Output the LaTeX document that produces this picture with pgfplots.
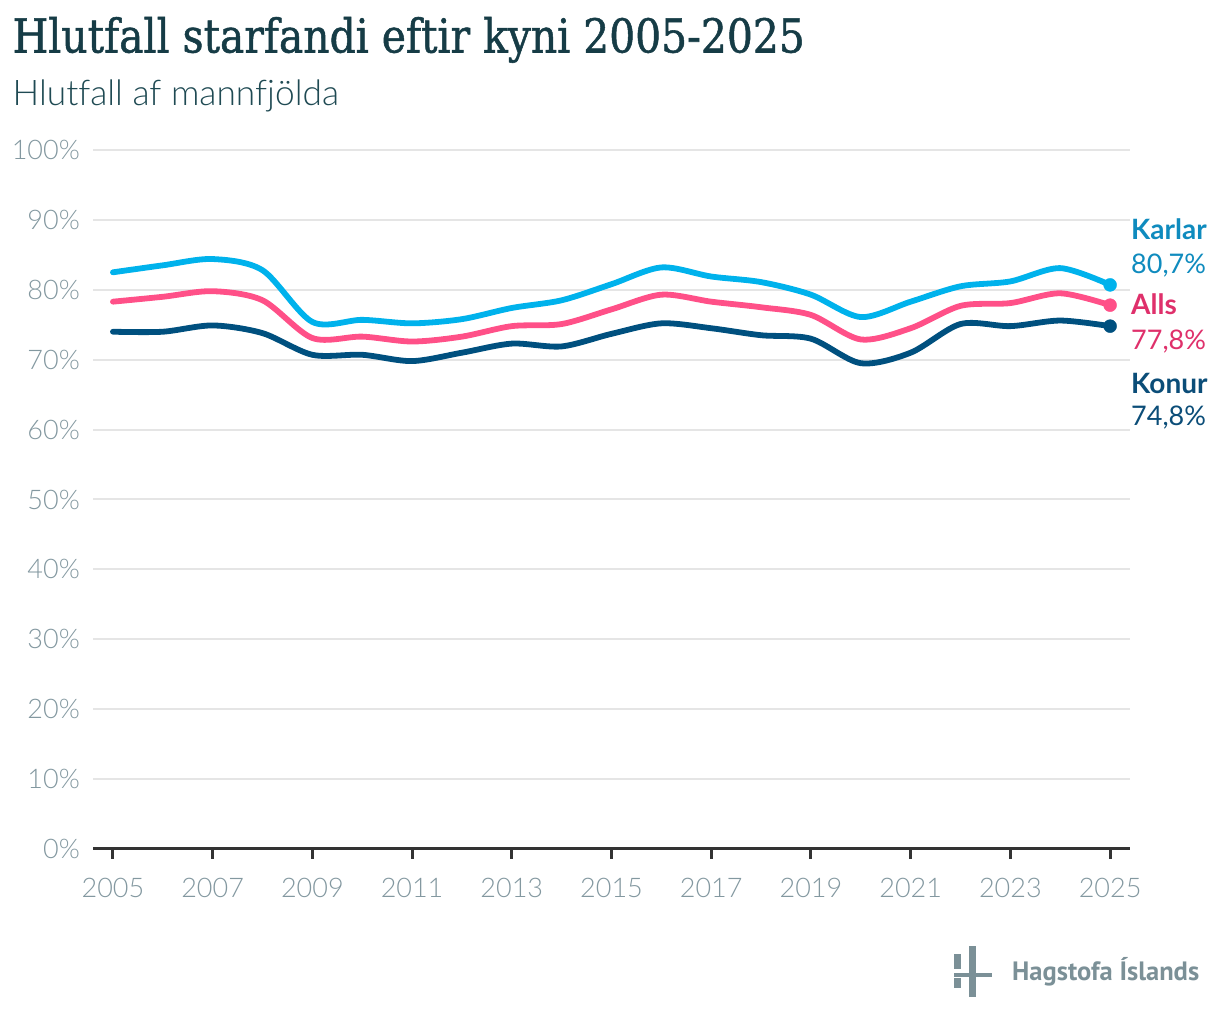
\documentclass[border=0pt]{standalone}
\usepackage{fontspec}
\setmainfont{Lato}[Ligatures=NoCommon]
\newfontfamily\latolight{Lato Light}[Ligatures=NoCommon]
\newfontfamily\titlefont{DejaVu Serif}[FakeBold=1.2]
\newfontfamily\logofont{PT Sans}
\usepackage{graphicx}
\usepackage{pgfplots}
\pgfplotsset{compat=1.18}
\definecolor{karlar}{HTML}{00B2EC}
\definecolor{alls}{HTML}{FF5088}
\definecolor{konur}{HTML}{00507F}
\definecolor{karlartxt}{HTML}{0F8BBE}
\definecolor{allstxt}{HTML}{DF306B}
\definecolor{konurtxt}{HTML}{0B4D78}
\definecolor{titlecol}{HTML}{163C46}
\definecolor{subcol}{HTML}{1F4A53}
\definecolor{tickgray}{HTML}{8398A0}
\definecolor{gridgray}{HTML}{E5E5E5}
\definecolor{axisgray}{HTML}{333333}
\definecolor{logogray}{HTML}{7B9097}
\begin{document}
\begin{tikzpicture}[x=1pt,y=1pt]
\useasboundingbox (0,0) rectangle (1220pt,1022pt);
\begin{axis}[
  at={(93pt,173pt)}, anchor=south west, scale only axis,
  width=1037pt, height=699pt,
  xmin=2004.6, xmax=2025.4, ymin=0, ymax=100,
  axis lines=left, axis line style={-},
  x axis line style={draw=axisgray, line width=3pt},
  y axis line style={draw=none},
  xtick={2005,2007,...,2025},
  xticklabels={2005,2007,2009,2011,2013,2015,2017,2019,2021,2023,2025},
  ytick={0,10,...,100},
  yticklabels={0\%,10\%,20\%,30\%,40\%,50\%,60\%,70\%,80\%,90\%,100\%},
  ymajorgrids, grid style={gridgray, line width=2pt},
  major tick length=10pt, tick align=outside,
  xtick style={draw=axisgray, line width=3pt},
  ytick style={draw=none},
  ticklabel style={font=\latolight\fontsize{27}{31}\selectfont, text=tickgray},
  yticklabel style={anchor=east, inner sep=0pt, xshift=-3pt},
  xticklabel style={anchor=north, inner sep=0pt, yshift=-19pt},
  clip=false,
]
\addplot[karlar, line width=5.8pt, line cap=round, smooth] coordinates {
(2005,82.5) (2006,83.5) (2007,84.4) (2008,82.8) (2009,75.4) (2010,75.7) (2011,75.2)
(2012,75.8) (2013,77.4) (2014,78.5) (2015,80.8) (2016,83.2) (2017,81.9) (2018,81.1)
(2019,79.3) (2020,76.1) (2021,78.3) (2022,80.5) (2023,81.2) (2024,83.1) (2025,80.7)};
\addplot[alls, line width=5.8pt, line cap=round, smooth] coordinates {
(2005,78.3) (2006,79.0) (2007,79.8) (2008,78.5) (2009,73.1) (2010,73.3) (2011,72.6)
(2012,73.3) (2013,74.8) (2014,75.1) (2015,77.2) (2016,79.3) (2017,78.3) (2018,77.5)
(2019,76.4) (2020,72.9) (2021,74.5) (2022,77.7) (2023,78.1) (2024,79.5) (2025,77.8)};
\addplot[konur, line width=5.8pt, line cap=round, smooth] coordinates {
(2005,74.0) (2006,74.0) (2007,74.9) (2008,73.8) (2009,70.7) (2010,70.7) (2011,69.8)
(2012,71.0) (2013,72.3) (2014,71.9) (2015,73.7) (2016,75.2) (2017,74.5) (2018,73.5)
(2019,73.0) (2020,69.5) (2021,71.0) (2022,75.1) (2023,74.8) (2024,75.6) (2025,74.8)};
\addplot[only marks, mark=*, mark size=6.5pt, karlar] coordinates {(2025,80.7)};
\addplot[only marks, mark=*, mark size=6.5pt, alls] coordinates {(2025,77.8)};
\addplot[only marks, mark=*, mark size=6.5pt, konur] coordinates {(2025,74.8)};
\end{axis}
% end labels
\node[anchor=base west, inner sep=0pt, text=karlartxt, font=\bfseries\fontsize{28}{32}\selectfont] at (1131pt,782.7pt) {Karlar};
\node[anchor=base west, inner sep=0pt, text=karlartxt, font=\fontsize{27}{31}\selectfont] at (1131pt,748.7pt) {80,7\%};
\node[anchor=base west, inner sep=0pt, text=allstxt, font=\bfseries\fontsize{28}{32}\selectfont] at (1131pt,707pt) {Alls};
\node[anchor=base west, inner sep=0pt, text=allstxt, font=\fontsize{27}{31}\selectfont] at (1131pt,672.7pt) {77,8\%};
\node[anchor=base west, inner sep=0pt, text=konurtxt, font=\bfseries\fontsize{28}{32}\selectfont] at (1131pt,628.7pt) {Konur};
\node[anchor=base west, inner sep=0pt, text=konurtxt, font=\fontsize{27}{31}\selectfont] at (1131pt,596pt) {74,8\%};
% title
\node[anchor=base west, inner sep=0pt, text=titlecol] at (12.5pt,969.5pt) {\resizebox{792pt}{35.5pt}{\titlefont Hlutfall starfandi eftir kyni 2005-2025}};
\node[anchor=base west, inner sep=0pt, text=subcol, font=\latolight\fontsize{35.3}{40}\selectfont] at (12.5pt,916pt) {Hlutfall af mannfjölda};
% logo
\fill[logogray] (954.3pt,52.5pt) rectangle (960.7pt,67.7pt);
\fill[logogray] (954.3pt,34pt) rectangle (960.7pt,44pt);
\fill[logogray] (969.3pt,25pt) rectangle (976pt,76pt);
\fill[logogray] (954.3pt,45.3pt) rectangle (991.7pt,49.3pt);
\node[anchor=base west, inner sep=0pt, text=logogray] at (1012pt,41.3pt) {\resizebox{187pt}{!}{\logofont\bfseries Hagstofa Íslands}};
\end{tikzpicture}
\end{document}
